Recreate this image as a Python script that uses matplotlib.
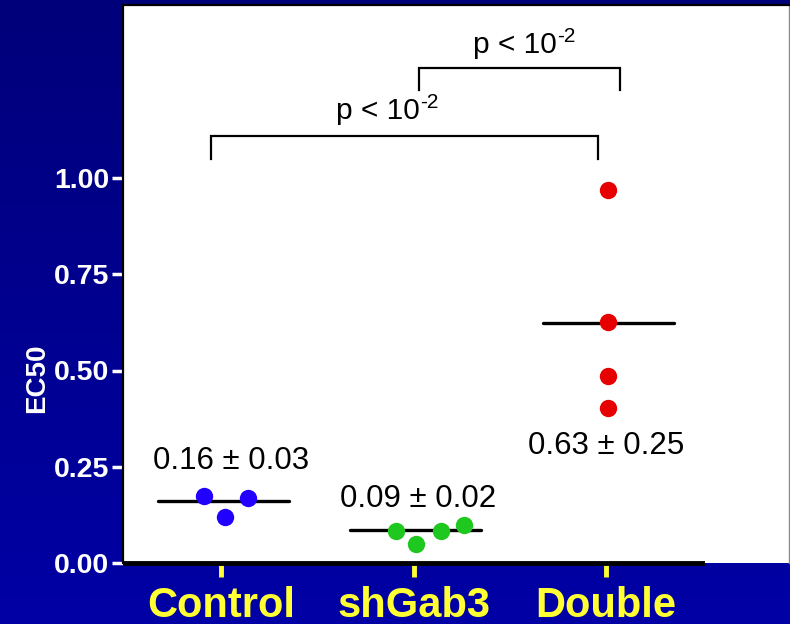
import matplotlib.pyplot as plt
import numpy as np

plt.rcParams['font.family'] = ['Liberation Sans', 'DejaVu Sans']

groups = ['Control', 'shGab3', 'Double']
colors = ['#2200ff', '#1ec81e', '#e60000']

# EC50 values per group, with horizontal offsets of the scattered dots
control = [0.174, 0.119, 0.169]
control_dx = [-0.09, 0.02, 0.14]
shgab3 = [0.084, 0.049, 0.084, 0.099]
shgab3_dx = [-0.094, 0.014, 0.14, 0.262]
double = [0.969, 0.625, 0.486, 0.403]
double_dx = [0.01, 0.01, 0.01, 0.01]

means = [0.161, 0.085, 0.623]
mean_labels = ['0.16 \u00b1 0.03', '0.09 \u00b1 0.02', '0.63 \u00b1 0.25']
label_y = [0.244, 0.146, 0.283]
label_dx = [0.05, 0.025, 0.0]

# significance brackets: x1, x2, top, leg bottom, text end x, text baseline
brackets = [(-0.052, 1.958, 1.110, 1.050, 1.034, 1.153),
            (1.03, 2.07, 1.287, 1.229, 1.744, 1.324)]
p_main = 'p < 10'
p_exp = '-2'

yticks = [0.0, 0.25, 0.5, 0.75, 1.0]


def main():
    fig = plt.figure(figsize=(7.9, 6.24), dpi=100)

    # blue gradient background
    bg = fig.add_axes([0, 0, 1, 1], zorder=-10)
    grad = np.linspace(0, 1, 256).reshape(-1, 1)
    top = np.array([0, 0, 122]) / 255
    bot = np.array([0, 0, 165]) / 255
    img = top + (bot - top) * grad[:, :, None]
    bg.imshow(img, aspect='auto', extent=[0, 1, 0, 1])
    bg.axis('off')

    ax = fig.add_axes([123 / 790, 1 - 563 / 624, 666 / 790, 558 / 624])
    ax.set_facecolor('white')

    data = [control, shgab3, double]
    offs = [control_dx, shgab3_dx, double_dx]
    for i in range(3):
        ax.plot([i - 0.33, i + 0.35], [means[i], means[i]], color='black',
                lw=2.4, solid_capstyle='round', zorder=2)
        ax.plot(np.array(offs[i]) + i, data[i], 'o', color=colors[i],
                markersize=12.5, markeredgewidth=0, zorder=3)
        ax.text(i + label_dx[i], label_y[i], mean_labels[i], ha='center',
                va='baseline', fontsize=22.5, color='black')

    for x1, x2, yt, yb, tx, ty in brackets:
        ax.plot([x1, x1, x2, x2], [yb, yt, yt, yb], color='black', lw=1.6,
                solid_joinstyle='miter', zorder=2)
        ax.text(tx, ty, p_main, ha='right', va='baseline', fontsize=21.5,
                color='black')
        ax.text(tx + 0.002, ty + 0.0285, p_exp, ha='left', va='baseline',
                fontsize=15, color='black')

    ax.set_xlim(-0.51, 2.95)
    ax.set_ylim(0, 558 / 385)

    ax.spines['bottom'].set_bounds(-0.5, 2.5)
    ax.spines['bottom'].set_linewidth(3.5)
    ax.spines['left'].set_linewidth(1.6)
    ax.spines['top'].set_linewidth(1.6)
    ax.spines['right'].set_linewidth(1.0)
    ax.spines['right'].set_color('#888888')

    ax.set_xticks(range(3))
    ax.set_xticklabels(groups)
    ax.tick_params(axis='x', colors='#ffff33', length=10, width=3.5, pad=6.5,
                   labelsize=30)
    for lab in ax.get_xticklabels():
        lab.set_fontweight('bold')

    ax.set_yticks(yticks)
    ax.set_yticklabels(['%.2f' % v for v in yticks])
    ax.tick_params(axis='y', colors='white', length=8, width=2.5, pad=2,
                   labelsize=20.5)
    for lab in ax.get_yticklabels():
        lab.set_fontweight('bold')

    fig.text(37 / 790, 1 - 378 / 624, 'EC50', rotation=90, ha='center',
             va='center', fontsize=20, fontweight='bold', color='white')

    fig.savefig('out.png', dpi=100)


if __name__ == '__main__':
    main()
